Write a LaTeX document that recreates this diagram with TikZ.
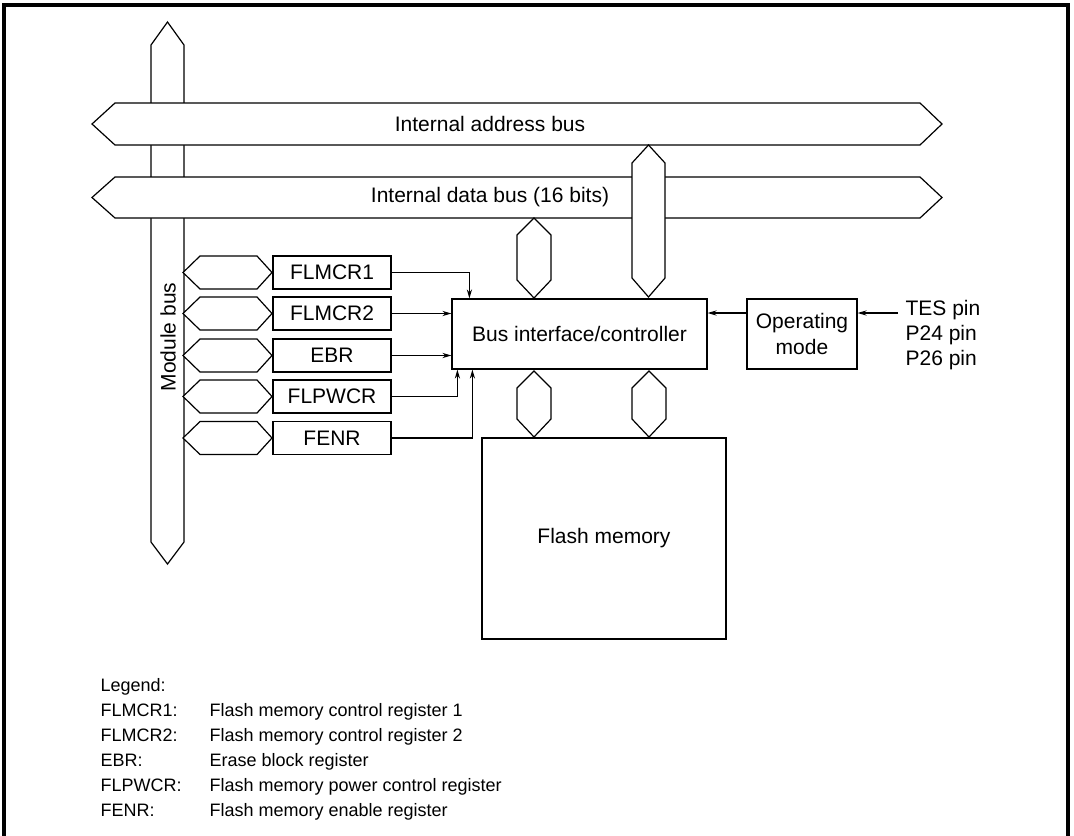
\documentclass[tikz,border=0pt]{standalone}
\usepackage{fontspec}
\setmainfont{Liberation Sans}
\usetikzlibrary{arrows.meta,calc,positioning}

\begin{document}
\begin{tikzpicture}[x=0.5pt,y=-0.5pt,>={Stealth[length=4.5pt,width=2.6pt]},
  line width=0.6pt,
  every node/.style={font=\fontsize{10.5}{13}\selectfont},
  regbox/.style={draw,inner sep=0pt,minimum width=59pt,minimum height=16.5pt},
  bus/.style={draw,fill=white,line join=miter},
  lbl/.style={font=\fontsize{9}{11}\selectfont,anchor=base west,inner sep=0pt}]
\useasboundingbox (0,0) rectangle (1074,835);
\draw[line width=1.6pt] (4,840) -- (4,5) -- (1068,5) -- (1068,840);

% module bus
\draw[bus] (167.5,22) -- (184,45) -- (184,542) -- (167.5,564) -- (151,542) -- (151,45) -- cycle;
\node[rotate=90] (modbus) at (168,337) {Module bus};

% internal buses
\draw[bus] (92,124) -- (115,103) -- (920,103) -- (942,124) -- (920,145) -- (115,145) -- cycle;
\node (abus) at (490,124) {Internal address bus};
\draw[bus] (92,197.5) -- (115,177) -- (920,177) -- (942,197.5) -- (920,218) -- (115,218) -- cycle;
\node (dbus) at (490,197.5) {Internal data bus (16 bits)};
\draw[bus] (648.5,145) -- (665,163) -- (665,278) -- (648.5,297) -- (632,278) -- (632,163) -- cycle;

% short buses
\draw[bus] (534,218) -- (551,235) -- (551,280) -- (534,298) -- (517,280) -- (517,235) -- cycle;
\foreach \bx in {534,649}
  \draw[bus] (\bx,371) -- ++(17,17) -- ++(0,31) -- ++(-17,18) -- ++(-17,-18) -- ++(0,-31) -- cycle;

% blocks
\node[draw,minimum width=127.5pt,minimum height=35pt] (ctrl) at (579.5,334) {Bus interface/controller};
\node[draw,minimum width=55pt,minimum height=35pt,align=center] (mode) at (802,334) {Operating\\mode};
\node[draw,minimum width=122pt,minimum height=100.5pt] (flash) at (604,538.5) {Flash memory};

% registers
\foreach \r/\yy in {FLMCR1/272.5,FLMCR2/313.5,EBR/355.5,FLPWCR/396.5,FENR/438}{
  \node[regbox] (\r) at (332,\yy) {\r};
  \draw[bus] (183,\yy) -- ++(17,-16.5) -- ++(57,0) -- ++(15,16.5) -- ++(-15,16.5) -- ++(-57,0) -- cycle;
}
\draw[->] (FLMCR1.east) -| ([xshift=9pt]ctrl.north west);
\draw[->] (FLMCR2.east) -- (FLMCR2.east -| ctrl.west);
\draw[->] (EBR.east) -- (EBR.east -| ctrl.west);
\draw[->] (FLPWCR.east) -| ([xshift=3pt]ctrl.south west);
\draw[->] (FENR.east) -| ([xshift=10.5pt]ctrl.south west);

% mode pins
\draw[->] ([yshift=10.5pt]mode.west) -- ([yshift=10.5pt]ctrl.east);
\coordinate (pinsrc) at (898,313);
\draw[->] (pinsrc) -- (pinsrc -| mode.east);
\node[align=left,anchor=west,inner sep=0pt,font=\fontsize{10.5}{12.5}\selectfont] (pins) at (905,335) {TES pin\\P24 pin\\P26 pin};

% legend
\node[lbl] (legend) at (100,691.5) {Legend:};
\foreach \k/\d [count=\i] in {FLMCR1:/Flash memory control register 1,
    FLMCR2:/Flash memory control register 2,
    EBR:/Erase block register,
    FLPWCR:/Flash memory power control register,
    FENR:/Flash memory enable register}{
  \node[lbl] (key\i) at (100,691.5+25*\i) {\k};
  \node[lbl] (desc\i) at (209,691.5+25*\i) {\d};
}
\end{tikzpicture}
\end{document}
